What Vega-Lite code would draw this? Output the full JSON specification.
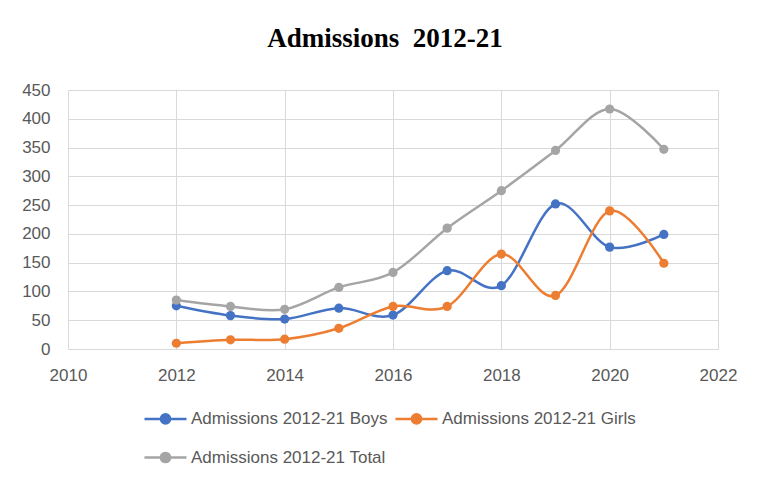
{
  "$schema": "https://vega.github.io/schema/vega-lite/v6.json",
  "width": 650,
  "height": 259,
  "autosize": {"type": "none"},
  "padding": {"left": 68, "top": 90, "right": 40, "bottom": 128},
  "background": "white",
  "title": {
    "text": "Admissions\u00a0 2012-21",
    "font": "Liberation Serif",
    "fontSize": 27,
    "fontWeight": "bold",
    "color": "#000000",
    "anchor": "middle",
    "offset": 28,
    "dx": -8
  },
  "data": {
    "values": [
      {"year": 2012, "series": "Admissions 2012-21 Boys", "value": 75},
      {"year": 2013, "series": "Admissions 2012-21 Boys", "value": 58},
      {"year": 2014, "series": "Admissions 2012-21 Boys", "value": 52},
      {"year": 2015, "series": "Admissions 2012-21 Boys", "value": 71},
      {"year": 2016, "series": "Admissions 2012-21 Boys", "value": 59},
      {"year": 2017, "series": "Admissions 2012-21 Boys", "value": 136},
      {"year": 2018, "series": "Admissions 2012-21 Boys", "value": 110},
      {"year": 2019, "series": "Admissions 2012-21 Boys", "value": 252},
      {"year": 2020, "series": "Admissions 2012-21 Boys", "value": 177},
      {"year": 2021, "series": "Admissions 2012-21 Boys", "value": 199},
      {"year": 2012, "series": "Admissions 2012-21 Girls", "value": 10},
      {"year": 2013, "series": "Admissions 2012-21 Girls", "value": 16},
      {"year": 2014, "series": "Admissions 2012-21 Girls", "value": 17},
      {"year": 2015, "series": "Admissions 2012-21 Girls", "value": 36},
      {"year": 2016, "series": "Admissions 2012-21 Girls", "value": 74},
      {"year": 2017, "series": "Admissions 2012-21 Girls", "value": 74},
      {"year": 2018, "series": "Admissions 2012-21 Girls", "value": 165},
      {"year": 2019, "series": "Admissions 2012-21 Girls", "value": 93},
      {"year": 2020, "series": "Admissions 2012-21 Girls", "value": 240},
      {"year": 2021, "series": "Admissions 2012-21 Girls", "value": 149},
      {"year": 2012, "series": "Admissions 2012-21 Total", "value": 85},
      {"year": 2013, "series": "Admissions 2012-21 Total", "value": 74},
      {"year": 2014, "series": "Admissions 2012-21 Total", "value": 69},
      {"year": 2015, "series": "Admissions 2012-21 Total", "value": 107},
      {"year": 2016, "series": "Admissions 2012-21 Total", "value": 133},
      {"year": 2017, "series": "Admissions 2012-21 Total", "value": 210},
      {"year": 2018, "series": "Admissions 2012-21 Total", "value": 275},
      {"year": 2019, "series": "Admissions 2012-21 Total", "value": 345},
      {"year": 2020, "series": "Admissions 2012-21 Total", "value": 417},
      {"year": 2021, "series": "Admissions 2012-21 Total", "value": 347}
    ]
  },
  "encoding": {
    "x": {
      "field": "year",
      "type": "quantitative",
      "scale": {"domain": [2010, 2022], "nice": false, "zero": false},
      "axis": {
        "title": null,
        "values": [2010, 2012, 2014, 2016, 2018, 2020, 2022],
        "format": "d",
        "domain": false,
        "ticks": false,
        "labelFlush": false,
        "labelPadding": 18,
        "labelFont": "Liberation Sans",
        "labelFontSize": 17,
        "labelColor": "#595959",
        "gridColor": "#d9d9d9",
        "gridWidth": 1
      }
    },
    "y": {
      "field": "value",
      "type": "quantitative",
      "scale": {"domain": [0, 450], "nice": false},
      "axis": {
        "title": null,
        "values": [0, 50, 100, 150, 200, 250, 300, 350, 400, 450],
        "domain": false,
        "ticks": false,
        "labelFlush": false,
        "labelPadding": 18,
        "labelFont": "Liberation Sans",
        "labelFontSize": 17,
        "labelColor": "#595959",
        "gridColor": "#d9d9d9",
        "gridWidth": 1
      }
    },
    "color": {
      "field": "series",
      "type": "nominal",
      "scale": {
        "domain": ["Admissions 2012-21 Boys", "Admissions 2012-21 Girls", "Admissions 2012-21 Total"],
        "range": ["#4472C4", "#ED7D31", "#A5A5A5"]
      },
      "legend": {
        "title": null,
        "orient": "none",
        "legendX": 75,
        "legendY": 306,
        "direction": "horizontal",
        "columns": 2,
        "columnPadding": 2,
        "rowPadding": 6,
        "symbolType": "M-1,0L1,0M0.22,0A0.22,0.22,0,1,1,-0.22,0A0.22,0.22,0,1,1,0.22,0Z",
        "symbolSize": 1764,
        "symbolStrokeWidth": 2.5,
        "labelFont": "Liberation Sans",
        "labelFontSize": 17,
        "labelColor": "#595959",
        "labelOffset": 3,
        "labelLimit": 400,
        "encode": {
          "symbols": {
            "update": {
              "fill": {"scale": "color", "field": "value"},
              "stroke": {"scale": "color", "field": "value"},
              "opacity": {"value": 1}
            }
          }
        }
      }
    }
  },
  "layer": [
    {
      "mark": {"type": "line", "interpolate": "cardinal", "tension": 0, "strokeWidth": 2.5}
    },
    {
      "mark": {"type": "point", "filled": true, "size": 85, "opacity": 1}
    }
  ],
  "config": {
    "view": {"stroke": null}
  }
}
